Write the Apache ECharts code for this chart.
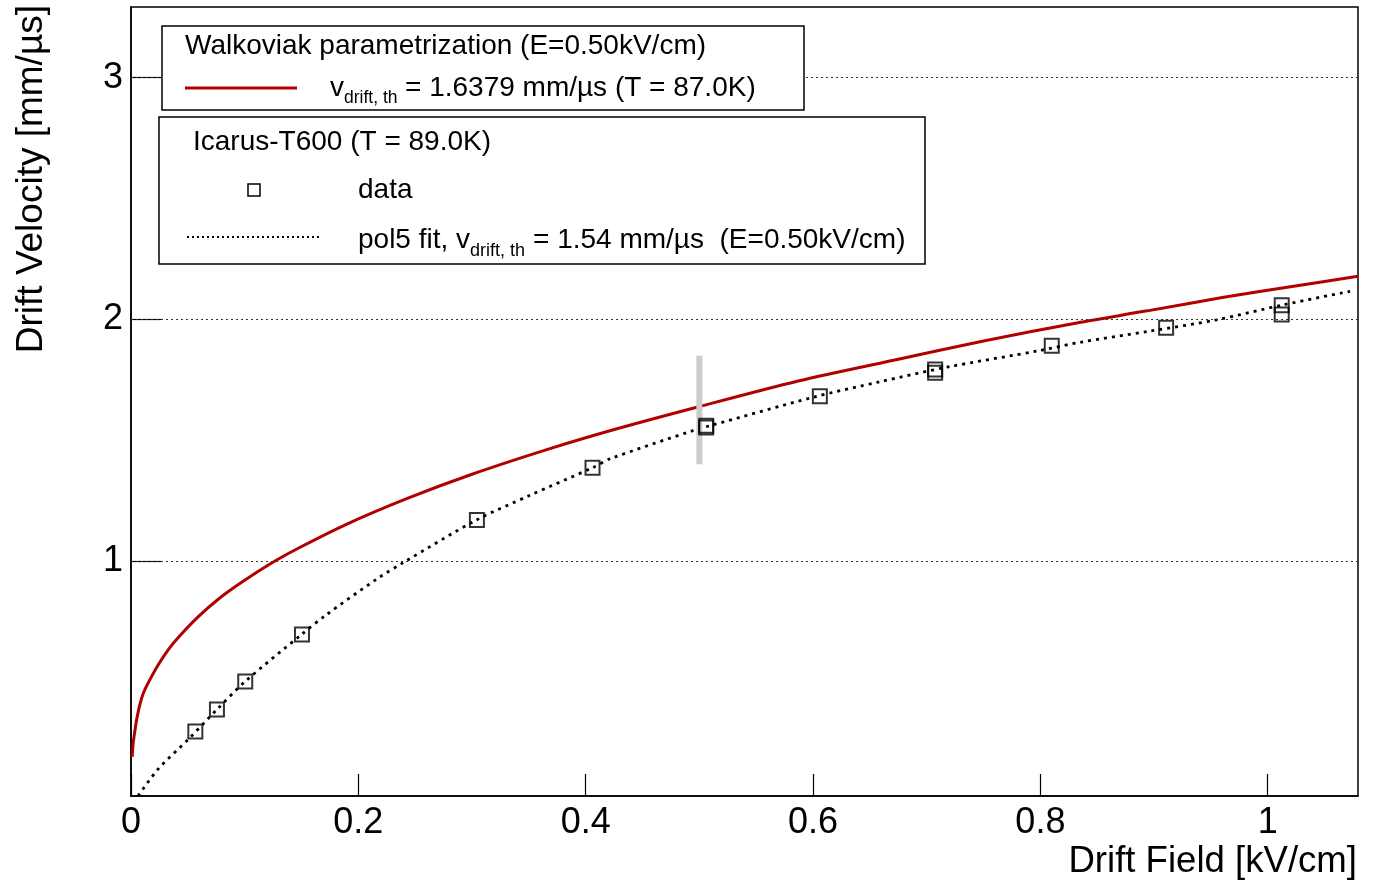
<!DOCTYPE html>
<html><head><meta charset="utf-8">
<script src="https://cdn.jsdelivr.net/npm/echarts@6/dist/echarts.min.js"></script>
<style>html,body{margin:0;padding:0;background:#fff}#c{width:1378px;height:884px}</style>
</head><body><div id="c"></div>
<script>
// Walkowiak parametrization curve
const walkE = [0.001,0.002,0.0035,0.005,0.008,0.011,0.015,0.024,0.033,0.042,0.059,0.077,0.097,0.123,0.148,0.189,0.242,0.300,0.370,0.426,0.496,0.587,0.675,0.750,0.832,0.894,0.960,1.020,1.0794];
const walkV = [0.19,0.25,0.30,0.345,0.41,0.455,0.495,0.571,0.635,0.686,0.769,0.843,0.911,0.99,1.055,1.151,1.257,1.359,1.467,1.545,1.634,1.745,1.835,1.91,1.985,2.035,2.09,2.135,2.178];
// pol5 fit curve
const fitE = [0.0062,0.024,0.051,0.0756,0.1005,0.15,0.171,0.2164,0.24,0.304,0.35,0.406,0.4215,0.4946,0.5095,0.6004,0.659,0.7177,0.7997,0.835,0.8964,0.955,1.0137,1.0724];
const fitV = [0.028,0.14,0.265,0.386,0.502,0.696,0.775,0.926,0.995,1.17,1.27,1.386,1.423,1.54,1.56,1.678,1.742,1.802,1.871,1.905,1.951,1.998,2.06,2.116];
// Icarus-T600 data points
const dataE = [0.0566,0.0756,0.1005,0.1504,0.3043,0.406,0.506,0.506,0.606,0.7074,0.7074,0.810,0.9106,1.0123,1.0123];
const dataV = [0.295,0.386,0.502,0.696,1.170,1.386,1.560,1.552,1.682,1.792,1.779,1.891,1.965,2.058,2.020];
// reference marker at E = 0.5 kV/cm
const markE = [0.5, 0.5];
const markV = [1.40, 1.85];
// ticks
const xTicks = [0, 0.2, 0.4, 0.6, 0.8, 1];
const yTicks = [1, 2, 3];

const FONT = "'Liberation Sans', Arial, Helvetica, sans-serif";
const zip = (a, b) => a.map((v, i) => [v, b[i]]);

const chart = echarts.init(document.getElementById('c'), null, {renderer: 'canvas'});
chart.setOption({
  animation: false,
  backgroundColor: '#fff',
  grid: {left: 131, right: 20, top: 7, bottom: 88, show: true, borderColor: '#000', borderWidth: 1.5, backgroundColor: 'transparent'},
  xAxis: {
    type: 'value', min: 0, max: 1.0794,
    axisLine: {show: true, lineStyle: {color: '#000', width: 1.5}},
    axisTick: {show: true, inside: true, length: 22, customValues: xTicks, lineStyle: {color: '#000', width: 1.2}},
    axisLabel: {show: true, customValues: xTicks, fontSize: 36, color: '#000', fontFamily: FONT, margin: 9},
    splitLine: {show: false}
  },
  yAxis: {
    type: 'value', min: 0.028, max: 3.292,
    axisLine: {show: true, lineStyle: {color: '#000', width: 1.5}},
    axisTick: {show: true, inside: true, length: 30, customValues: yTicks, lineStyle: {color: '#000', width: 1.2}},
    axisLabel: {show: true, customValues: yTicks, fontSize: 36, color: '#000', fontFamily: FONT, margin: 8},
    splitLine: {show: false}
  },
  series: [
    {
      type: 'line', data: [], z: 1, silent: true,
      markLine: {
        silent: true, symbol: 'none', animation: false,
        label: {show: false},
        lineStyle: {color: '#333', width: 1, type: [2, 3]},
        data: yTicks.map(v => ({yAxis: v}))
      }
    },
    {
      type: 'line', data: zip(walkE, walkV), showSymbol: false, symbol: 'none', smooth: 0.3, z: 3,
      lineStyle: {color: '#b00000', width: 3}
    },
    {
      type: 'line', data: zip(fitE, fitV), showSymbol: false, symbol: 'none', smooth: 0.3, z: 4,
      lineStyle: {color: '#000', width: 2.8, type: [3, 5]}
    },
    {
      type: 'line', data: zip(markE, markV), showSymbol: false, symbol: 'none', z: 5,
      lineStyle: {color: '#cccccc', width: 6}
    },
    {
      type: 'scatter', data: zip(dataE, dataV), symbol: 'rect', symbolSize: 14, z: 6,
      itemStyle: {color: 'rgba(255,255,255,0)', borderColor: '#000', borderWidth: 2}
    }
  ],
  graphic: [
    {type: 'rect', z: 100, shape: {x: 162, y: 26, width: 642, height: 84}, style: {fill: '#fff', stroke: '#000', lineWidth: 1.5}},
    {type: 'text', z: 101, x: 185, y: 46, style: {text: 'Walkoviak parametrization (E=0.50kV/cm)', font: '28px ' + FONT, fill: '#000', align: 'left', verticalAlign: 'middle'}},
    {type: 'line', z: 101, shape: {x1: 185, y1: 88, x2: 297, y2: 88}, style: {stroke: '#b00000', lineWidth: 3}},
    {type: 'text', z: 101, x: 330, y: 88, style: {text: 'v', font: '28px ' + FONT, fill: '#000', align: 'left', verticalAlign: 'middle'}},
    {type: 'text', z: 101, x: 344, y: 98, style: {text: 'drift, th', font: '17.5px ' + FONT, fill: '#000', align: 'left', verticalAlign: 'middle'}},
    {type: 'text', z: 101, x: 405, y: 88, style: {text: '= 1.6379 mm/\u00b5s (T = 87.0K)', font: '28px ' + FONT, fill: '#000', align: 'left', verticalAlign: 'middle'}},

    {type: 'rect', z: 100, shape: {x: 159, y: 117, width: 766, height: 147}, style: {fill: '#fff', stroke: '#000', lineWidth: 1.5}},
    {type: 'text', z: 101, x: 193, y: 142, style: {text: 'Icarus-T600 (T = 89.0K)', font: '28px ' + FONT, fill: '#000', align: 'left', verticalAlign: 'middle'}},
    {type: 'rect', z: 101, shape: {x: 248, y: 184, width: 12, height: 12}, style: {fill: 'none', stroke: '#000', lineWidth: 1.5}},
    {type: 'text', z: 101, x: 358, y: 190, style: {text: 'data', font: '28px ' + FONT, fill: '#000', align: 'left', verticalAlign: 'middle'}},
    {type: 'line', z: 101, shape: {x1: 187, y1: 237, x2: 322, y2: 237}, style: {stroke: '#000', lineWidth: 2, lineDash: [2, 3]}},
    {type: 'text', z: 101, x: 358, y: 240, style: {text: 'pol5 fit, v', font: '28px ' + FONT, fill: '#000', align: 'left', verticalAlign: 'middle'}},
    {type: 'text', z: 101, x: 470, y: 251, style: {text: 'drift, th', font: '18px ' + FONT, fill: '#000', align: 'left', verticalAlign: 'middle'}},
    {type: 'text', z: 101, x: 533, y: 240, style: {text: '= 1.54 mm/\u00b5s  (E=0.50kV/cm)', font: '28px ' + FONT, fill: '#000', align: 'left', verticalAlign: 'middle'}},

    {type: 'text', z: 101, x: 1357, y: 862, style: {text: 'Drift Field [kV/cm]', font: '36.6px ' + FONT, fill: '#000', align: 'right', verticalAlign: 'middle'}},
    {type: 'text', z: 101, x: 32, y: 5, rotation: Math.PI / 2, style: {text: 'Drift Velocity [mm/\u00b5s]', font: '37px ' + FONT, fill: '#000', align: 'right', verticalAlign: 'middle'}}
  ]
});
</script>
</body></html>
